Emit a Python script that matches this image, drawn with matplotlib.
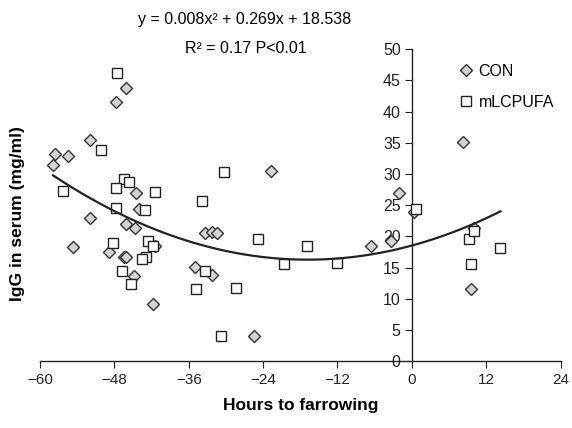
import numpy as np
import matplotlib
matplotlib.use("Agg")
import matplotlib.pyplot as plt

plt.rcParams["font.family"] = ["Liberation Sans", "DejaVu Sans"]

# CON group (diamonds): hours to farrowing, IgG mg/ml
con_x = [-57.6, -55.5, -57.9, -52.0, -46.1, -47.7, -44.5, -44.1, -52.0, -46.2,
         -44.6, -54.7, -48.8, -46.4, -46.1, -41.4, -35.0, -44.9, -41.7, -33.4,
         -32.3, -31.5, -22.8, -32.3, -25.5, -6.6, -3.4, -2.1, 0.3, 8.3,
         10.0, 9.5]
con_y = [33.2, 32.9, 31.5, 35.4, 43.8, 41.6, 27.0, 24.4, 23.0, 22.0,
         21.4, 18.3, 17.5, 16.7, 16.7, 18.5, 15.1, 13.7, 9.2, 20.6,
         20.7, 20.6, 30.5, 13.8, 4.1, 18.5, 19.3, 27.0, 23.9, 35.1,
         21.4, 11.6]

# mLCPUFA group (squares)
ml_x = [-47.5, -50.1, -56.3, -46.4, -45.7, -47.8, -41.4, -47.7, -43.0, -33.9,
        -48.2, -42.5, -41.7, -42.9, -43.5, -33.4, -46.7, -45.3, -34.8, -30.3,
        -24.9, -16.9, -20.7, -12.0, -30.8, -28.4, 0.6, 9.3, 10.0, 9.6,
        14.3]
ml_y = [46.2, 33.8, 27.3, 29.2, 28.7, 27.8, 27.1, 24.6, 24.2, 25.7,
        19.0, 19.3, 18.5, 16.7, 16.4, 14.5, 14.5, 12.4, 11.6, 30.3,
        19.6, 18.5, 15.6, 15.8, 4.1, 11.7, 24.4, 19.6, 20.9, 15.6,
        18.1]

# quadratic trendline from the chart annotation
coef = [0.008, 0.269, 18.538]

fig = plt.figure(figsize=(5.72, 4.28), dpi=100)
ax = fig.add_axes([0.070, 0.156, 0.910, 0.729])

ax.plot(con_x, con_y, linestyle="none", marker="D", markersize=6.2,
        markerfacecolor="#d4d4d4", markeredgecolor="#333333",
        markeredgewidth=1.0, label="CON", zorder=3)
ax.plot(ml_x, ml_y, linestyle="none", marker="s", markersize=6.5,
        markerfacecolor="white", markeredgecolor="#222222",
        markeredgewidth=1.0, label="mLCPUFA", zorder=3)

all_x = np.array(con_x + ml_x)
xf = np.linspace(all_x.min(), all_x.max(), 200)
ax.plot(xf, np.polyval(coef, xf), color="#222222", linewidth=1.6, zorder=4)

ax.set_xlim(-60, 24)
ax.set_ylim(0, 50)
ax.set_xticks(np.arange(-60, 25, 12))
ax.set_yticks(np.arange(0, 51, 5))

ax.spines["left"].set_position(("data", 0))
ax.spines["top"].set_visible(False)
ax.spines["right"].set_visible(False)
for s in ("left", "bottom"):
    ax.spines[s].set_color("#222222")
    ax.spines[s].set_linewidth(1.0)
ax.tick_params(axis="both", direction="out", length=5, color="#222222",
               labelsize=11.5, labelcolor="#222222")
ax.tick_params(axis="x", labelsize=11)
ax.tick_params(axis="y", pad=3)

ax.set_xlabel("Hours to farrowing", fontsize=12.5, fontweight="bold", labelpad=8)
fig.text(0.030, 0.50, "IgG in serum (mg/ml)", rotation=90, fontsize=12.5,
         fontweight="bold", ha="center", va="center")

fig.text(0.428, 0.955, "y = 0.008x\u00b2 + 0.269x + 18.538", fontsize=11.5,
         ha="center", va="center")
fig.text(0.430, 0.887, "R\u00b2 = 0.17 P<0.01", fontsize=11.5,
         ha="center", va="center")

ax.legend(loc="upper left", bbox_to_anchor=(0.775, 1.0), frameon=False,
          fontsize=11.5, handletextpad=0.3, labelspacing=1.0,
          handlelength=1.0)

fig.savefig("out.png", dpi=100)
